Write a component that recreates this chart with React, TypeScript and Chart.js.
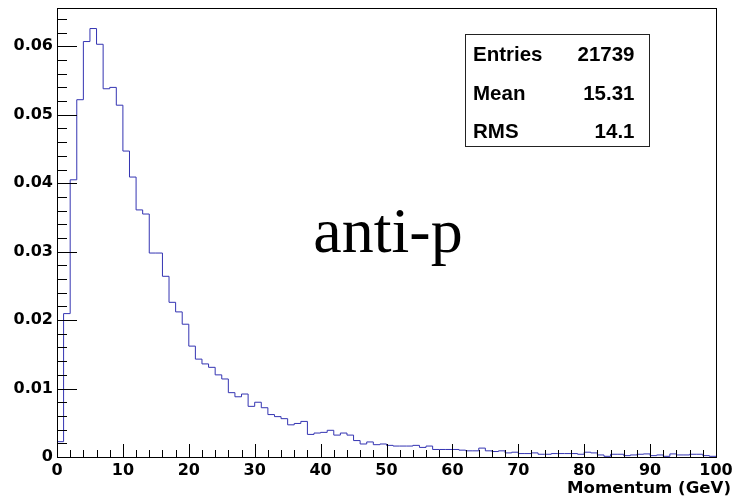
import React, { useEffect, useRef } from "react";
import { Chart, registerables } from "chart.js";

Chart.register(...registerables);

// ---- data ----
const X_MIN = 0;
const X_MAX = 100;
const BIN_WIDTH = 1;
const Y_MAX = 0.0656;

const BIN_VALUES = [
  0.00224, 0.02095, 0.0405, 0.0522, 0.0607, 0.0626, 0.0603, 0.0538, 0.054, 0.0514,
  0.0447, 0.0409, 0.0361, 0.0355, 0.0298, 0.0298, 0.0264, 0.0226, 0.0212, 0.0194,
  0.0162, 0.0143, 0.0136, 0.0131, 0.012, 0.0114, 0.0094, 0.0088, 0.0092, 0.0074,
  0.008, 0.0072, 0.0062, 0.0059, 0.0056, 0.0047, 0.0049, 0.0052, 0.0033, 0.0035,
  0.0036, 0.0039, 0.0032, 0.0035, 0.0032, 0.0024, 0.0019, 0.0022, 0.0018, 0.0019,
  0.0017, 0.0016, 0.0016, 0.0016, 0.0017, 0.0014, 0.0016, 0.0011, 0.0011, 0.0011,
  0.0011, 0.001, 0.0009, 0.0009, 0.0013, 0.0009, 0.0008, 0.0009, 0.0006, 0.0007,
  0.0005, 0.0005, 0.0006, 0.0004, 0.0004, 0.0005, 0.0005, 0.0005, 0.0005, 0.0004,
  0.0007, 0.0006, 0.0003, 0.0001, 0.0004, 0.0004, 0.0002, 0.0003, 0.0004, 0.00045,
  0.0002, 0.0003, 0.0001, 0.00045, 0.0003, 0.0003, 0.0004, 0.0004, 0.0002, 0.0001,
];

const X_TICK_LABELS = ["0", "10", "20", "30", "40", "50", "60", "70", "80", "90", "100"];
const Y_TICK_LABELS = ["0", "0.01", "0.02", "0.03", "0.04", "0.05", "0.06"];
const X_TITLE = "Momentum (GeV)";
const ANNOTATION = "anti-p";
const STATS_LABELS = ["Entries", "Mean", "RMS"];
const STATS_VALUES = ["21739", "15.31", "14.1"];

const LINE_COLOR = "#3434b2";
const TICK_FONT = { family: '"DejaVu Sans"', size: 16, weight: "bold" as const };

const rootPlugin = {
  id: "rootDecor",
  afterDraw(chart: any) {
    const ctx = chart.ctx as CanvasRenderingContext2D;
    const area = chart.chartArea;
    const xs = chart.scales.x;
    const ys = chart.scales.y;
    ctx.save();
    ctx.strokeStyle = "#000";
    ctx.lineWidth = 1;
    // x ticks (inward, from bottom)
    ctx.beginPath();
    for (let i = 0; i <= 50; i++) {
      const v = X_MIN + i * 2;
      const px = Math.round(xs.getPixelForValue(v)) + 0.5;
      const len = i % 5 === 0 ? 13 : 7;
      ctx.moveTo(px, area.bottom);
      ctx.lineTo(px, area.bottom - len);
    }
    // y ticks (inward, from left)
    for (let i = 0; i * 0.002 <= Y_MAX + 1e-9; i++) {
      const v = i * 0.002;
      const py = Math.round(ys.getPixelForValue(v)) + 0.5;
      const len = i % 5 === 0 ? 20 : 10;
      ctx.moveTo(area.left, py);
      ctx.lineTo(area.left + len, py);
    }
    ctx.stroke();
    // frame
    ctx.strokeRect(area.left + 0.5, area.top + 0.5, area.right - area.left, area.bottom - area.top);

    // axis title
    ctx.fillStyle = "#000";
    ctx.font = 'bold 16.6px "DejaVu Sans"';
    ctx.textAlign = "right";
    ctx.textBaseline = "alphabetic";
    ctx.fillText(X_TITLE, area.right + 15, 493);

    // annotation
    ctx.font = '64px "Liberation Serif"';
    ctx.textAlign = "left";
    ctx.fillText(ANNOTATION, xs.getPixelForValue(38.9), ys.getPixelForValue(0.0299));

    // stats box
    const bx = 465.5, by = 34.5, bw = 184, bh = 112;
    ctx.fillStyle = "#fff";
    ctx.fillRect(bx, by, bw, bh);
    ctx.strokeStyle = "#222";
    ctx.strokeRect(bx, by, bw, bh);
    ctx.fillStyle = "#000";
    ctx.font = 'bold 20.5px "Liberation Sans"';
    const baselines = [61, 99.5, 137.5];
    STATS_LABELS.forEach((lab, i) => {
      ctx.textAlign = "left";
      ctx.fillText(lab, 473, baselines[i]);
      ctx.textAlign = "right";
      ctx.fillText(STATS_VALUES[i], 634.5, baselines[i]);
    });
    ctx.restore();
  },
};

export default function App() {
  const ref = useRef<HTMLCanvasElement>(null);
  useEffect(() => {
    const canvas = ref.current!;
    const points: { x: number; y: number }[] = [{ x: X_MIN, y: 0 }];
    BIN_VALUES.forEach((v, i) => points.push({ x: X_MIN + i * BIN_WIDTH, y: v }));
    points.push({ x: X_MAX, y: BIN_VALUES[BIN_VALUES.length - 1] });
    points.push({ x: X_MAX, y: 0 });

    const chart = new Chart(canvas, {
      type: "line",
      data: {
        datasets: [
          {
            data: points,
            borderColor: LINE_COLOR,
            borderWidth: 1,
            stepped: "before",
            pointRadius: 0,
            fill: false,
            tension: 0,
          },
        ],
      },
      options: {
        animation: false,
        responsive: false,
        devicePixelRatio: 1,
        layout: { padding: { top: 8, right: 21, left: 0, bottom: 0 } },
        plugins: {
          legend: { display: false },
          tooltip: { enabled: false },
          title: { display: false },
        },
        scales: {
          x: {
            type: "linear",
            min: X_MIN,
            max: X_MAX,
            grid: { display: false, drawTicks: false },
            border: { display: false },
            ticks: {
              stepSize: 10,
              autoSkip: false,
              maxRotation: 0,
              minRotation: 0,
              padding: 4,
              color: "#000",
              font: TICK_FONT,
              callback: (_v: any, i: number) => X_TICK_LABELS[i],
            },
            afterFit: (s: any) => {
              s.height = 41;
              s.paddingLeft = 0;
              s.paddingRight = 0;
            },
          },
          y: {
            type: "linear",
            min: 0,
            max: Y_MAX,
            grid: { display: false, drawTicks: false },
            border: { display: false },
            ticks: {
              stepSize: 0.01,
              includeBounds: false,
              autoSkip: false,
              padding: 4,
              color: "#000",
              font: TICK_FONT,
              callback: (_v: any, i: number) => Y_TICK_LABELS[i],
            },
            afterFit: (s: any) => {
              s.width = 57;
              s.paddingTop = 0;
              s.paddingBottom = 0;
            },
          },
        },
      },
      plugins: [rootPlugin],
    } as any);
    return () => chart.destroy();
  }, []);
  return (
    <canvas
      ref={ref}
      width={737}
      height={498}
      style={{ position: "absolute", left: 0, top: 0, display: "block", background: "#fff" }}
    />
  );
}
